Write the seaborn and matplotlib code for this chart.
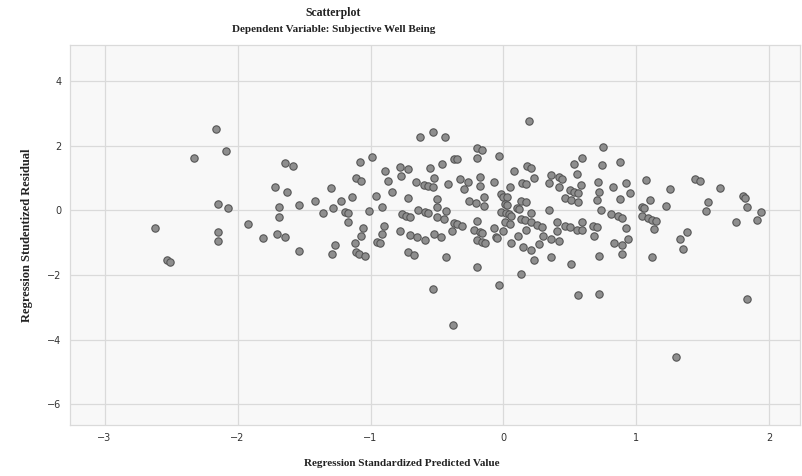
import pandas as pd
import numpy as np
import matplotlib.pyplot as plt
import seaborn as sns

# standardized predicted value (x) and studentized residual (y)
pred = [-2.16, -2.09, -2.33, -1.64, -1.58, -1.72, -1.63,
        -0.63, -0.53, -0.44, -1.08, -0.99, -0.89, -0.78, -0.72, -0.55, -0.46, -0.37, -0.35,
        -1.11, -1.07, -0.87, -0.77, -0.66, -0.60, -0.57, -0.53, -0.52, -0.42, -0.33, -1.30, -0.84,
        0.19, -0.20, -0.16, -0.20, -0.03, 0.75, 0.59, 0.53, 0.74, 0.88, 0.08, 0.18, 0.21, 0.23,
        0.36, 0.42, 0.44, 0.55, 0.34, 0.42, 0.58, 0.71, 0.82, 0.14, 0.17, 0.05, -0.07, -0.18,
        -0.18, -0.27, -0.30, 0.50, 0.53, 0.56, 0.72, -0.02,
        0.92, 0.95, 1.07, 1.25, 1.44, 1.48, 1.63,
        -2.15, -2.07, -1.69, -1.54, -1.69, -2.62, -2.15, -2.15, -1.92, -1.81, -1.70, -1.64,
        -1.54, -2.53, -2.51,
        -1.42, -1.22, -1.14, -0.96, -0.72, -0.50, -1.36, -1.28, -1.19, -1.17, -1.17, -1.01,
        -0.91, -0.76, -0.73, -0.70, -0.64, -0.59, -0.57, -0.50, -0.43, -0.50, -0.45, -0.37,
        -0.35, -0.31, -1.06, -1.07, -1.12, -0.90, -0.91, -0.95, -0.93, -0.78, -0.70, -0.65,
        -0.59, -0.52, -0.47, -0.39, -1.27, -1.29, -1.11, -1.09, -1.04, -0.72, -0.67, -0.43,
        -0.26, -0.21, -0.15, -0.15, 0.00, 0.03, 0.13, 0.17, 0.46, 0.51, 0.56, 0.70, 0.88,
        0.01, 0.03, -0.02, 0.02, 0.04, 0.06, 0.10, 0.12, 0.21, 0.34, 0.73, 0.81, 0.86,
        -0.20, -0.07, 0.01, 0.00, 0.05, 0.13, 0.16, 0.21, 0.25, 0.29, 0.17, 0.40, 0.46,
        0.50, 0.55, 0.59, 0.59, 0.67, 0.70, -0.22, -0.18, -0.16, -0.06, -0.05, 0.11, 0.30,
        0.40, 0.36, 0.42, 0.68, -0.20, -0.16, -0.14, 0.06, 0.15, 0.21, 0.27, 0.83, 0.23,
        0.36, 0.72, 0.51, -0.20, 0.13,
        1.10, 1.54, 1.80, 1.82, 1.04, 1.06, 1.22, 1.52, 1.83, 1.94, 1.91, 1.75, 0.89, 1.04,
        1.09, 1.12, 1.15, 1.13, 0.92, 0.94, 0.89, 0.89, 1.38, 1.33, 1.35, 1.12,
        -0.53, -0.38, -0.03, 0.56, 0.72, 1.83, 1.30]
resid = [2.54, 1.84, 1.63, 1.47, 1.39, 0.72, 0.58,
         2.27, 2.42, 2.27, 1.49, 1.65, 1.22, 1.35, 1.28, 1.31, 1.45, 1.61, 1.59,
         1.00, 0.91, 0.91, 1.06, 0.89, 0.80, 0.76, 0.72, 1.00, 0.82, 0.99, 0.69, 0.58,
         2.78, 1.93, 1.88, 1.64, 1.69, 1.97, 1.64, 1.44, 1.42, 1.49, 1.23, 1.38, 1.33, 1.02,
         1.11, 1.03, 0.99, 1.12, 0.85, 0.74, 0.78, 0.88, 0.74, 0.86, 0.82, 0.72, 0.88, 1.04,
         0.76, 0.89, 0.67, 0.63, 0.58, 0.53, 0.58, 0.52,
         0.86, 0.55, 0.95, 0.68, 0.98, 0.91, 0.70,
         0.20, 0.09, 0.10, 0.17, -0.19, -0.54, -0.66, -0.95, -0.42, -0.86, -0.74, -0.83,
         -1.27, -1.54, -1.59,
         0.29, 0.29, 0.43, 0.45, 0.40, 0.37, -0.08, 0.08, -0.05, -0.08, -0.36, -0.02,
         0.11, -0.11, -0.16, -0.19, 0.02, -0.05, -0.08, 0.10, -0.02, -0.19, -0.27, -0.40,
         -0.42, -0.48, -0.53, -0.80, -1.00, -0.47, -0.74, -0.97, -1.00, -0.64, -0.76, -0.83,
         -0.92, -0.74, -0.81, -0.64, -1.07, -1.34, -1.30, -1.34, -1.40, -1.30, -1.38, -1.44,
         0.30, 0.23, 0.13, 0.43, 0.43, 0.43, 0.30, 0.25, 0.38, 0.33, 0.27, 0.33, 0.36,
         0.20, 0.17, -0.04, -0.09, -0.12, -0.17, 0.07, 0.04, -0.08, 0.01, 0.01, -0.12, -0.18,
         -0.33, -0.53, -0.35, -0.64, -0.43, -0.27, -0.30, -0.36, -0.45, -0.50, -0.60, -0.37, -0.47,
         -0.51, -0.60, -0.61, -0.35, -0.48, -0.51, -0.60, -0.67, -0.69, -0.82, -0.84, -0.79, -0.79,
         -0.65, -0.87, -0.96, -0.78, -0.91, -0.98, -1.02, -1.02, -1.14, -1.22, -1.04, -1.00, -1.54,
         -1.44, -1.41, -1.66, -1.76, -1.97,
         0.33, 0.25, 0.45, 0.39, 0.12, 0.09, 0.14, -0.01, 0.10, -0.05, -0.29, -0.35, -0.22, -0.16,
         -0.22, -0.29, -0.32, -0.57, -0.55, -0.87, -1.07, -1.36, -0.66, -0.87, -1.18, -1.43,
         -2.42, -3.54, -2.30, -2.61, -2.59, -2.75, -4.55]

xticks = [-3, -2, -1, 0, 1, 2]
yticks = [-6, -4, -2, 0, 2, 4]

df = pd.DataFrame({"pred": pred, "resid": resid})

sns.set_theme(style="whitegrid")
plt.rcParams["font.family"] = ["DejaVu Sans"]

fig = plt.figure(figsize=(8.03, 4.76), dpi=100)
ax = fig.add_axes([70 / 803, 1 - 425 / 476, 730 / 803, 380 / 476])
ax.set_facecolor("#f8f8f8")

sns.scatterplot(data=df, x="pred", y="resid", ax=ax, color="#8e8e8e",
                edgecolor="#555555", linewidth=0.8, s=28, zorder=3)

ax.set_xlim(-3.26, 2.23)
ax.set_ylim(-6.65, 5.13)
ax.set_xticks(xticks)
ax.set_yticks(yticks)
ax.tick_params(length=0, labelsize=7, colors="#333333", pad=6)
ax.grid(True, color="#dadada", linewidth=0.9)
for s in ax.spines.values():
    s.set_color("#dadada")
    s.set_linewidth(0.9)

serif = ["Liberation Serif", "DejaVu Serif"]
ax.set_xlabel("")
ax.set_ylabel("Regression Studentized Residual", fontsize=9, fontweight="bold",
              family=serif, color="#222222", labelpad=10)
fig.text(0.5, 1 - 463 / 476, "Regression Standardized Predicted Value",
         ha="center", va="center", fontsize=8, fontweight="bold",
         family=serif, color="#222222")
fig.text(0.415, 1 - 13 / 476, "Scatterplot", ha="center", va="center",
         fontsize=8.5, fontweight="bold", family=serif, color="#222222")
fig.text(0.415, 1 - 30 / 476, "Dependent Variable: Subjective Well Being",
         ha="center", va="center", fontsize=8, fontweight="bold",
         family=serif, color="#222222")

fig.savefig("out.png", dpi=100)
